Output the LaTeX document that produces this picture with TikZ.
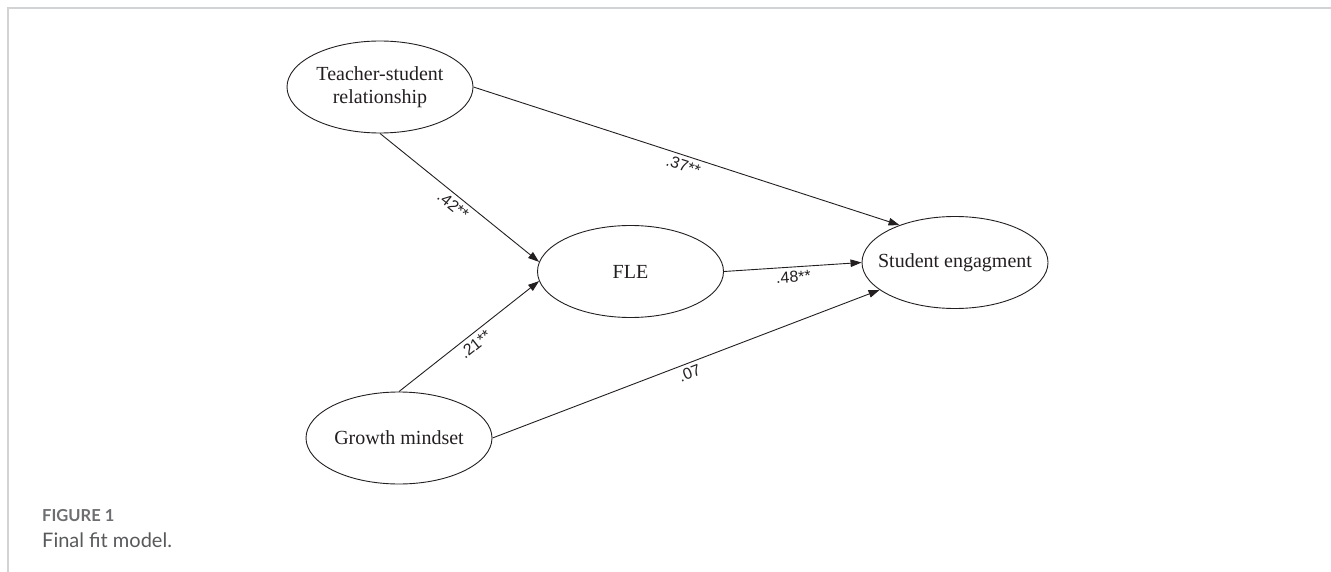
\documentclass[tikz,border=0pt]{standalone}
\usepackage{fontspec}
\setmainfont{Liberation Serif}
\newfontfamily\coeffont{Liberation Sans}
\newfontfamily\capfont{Lato}
\usetikzlibrary{shapes.geometric,arrows.meta}
\definecolor{ink}{HTML}{231F20}
\definecolor{framegray}{HTML}{D1D3D4}
\definecolor{capgray}{HTML}{6D6E71}
\definecolor{captext}{HTML}{58595B}
\begin{document}
\begin{tikzpicture}[x=1pt, y=-1pt,
    var/.style={ellipse, draw=ink, line width=0.9pt, minimum width=186pt, minimum height=92pt, inner sep=0pt},
    every label/.style={align=center, text=ink, font=\fontsize{20}{23}\selectfont},
    arr/.style={draw=ink, line width=0.9pt, -{Triangle[length=11pt,width=7.5pt]}},
    coef/.style={midway, below, sloped, inner sep=4pt, text=ink, font=\coeffont\fontsize{16}{16}\selectfont}]
    \useasboundingbox (0,0) rectangle (1331,572);
    \draw[framegray, line width=2pt] (8,572) -- (8,8) -- (1331,8);
    \node[var, label={center:Teacher-student\\relationship}] (tsr) at (380,87) {};
    \node[var, label={center:FLE}] (fle) at (630.5,271.5) {};
    \node[var, label={center:Student engagment}] (se) at (955,262.5) {};
    \node[var, label={center:Growth mindset}] (gm) at (399,438) {};
    \draw[arr] (tsr.south) -- (fle.174) node[coef] {.42**};
    \draw[arr] (gm.north) -- (fle.186.5) node[coef] {.21**};
    \draw[arr] (tsr.east) -- (se.146.7) node[coef] {.37**};
    \draw[arr] (fle.east) -- (se.west) node[coef] {.48**};
    \draw[arr] (gm.east) -- (se.200.8) node[coef] {.07};
    \node[anchor=base west, inner sep=0pt, text=capgray, font=\capfont\bfseries\fontsize{16.5}{16.5}\selectfont] (fig) at (42,521) {FIGURE 1};
    \node[anchor=base west, inner sep=0pt, text=captext, font=\capfont\fontsize{20}{20}\selectfont] (cap) at (42,547) {Final fit model.};
\end{tikzpicture}
\end{document}
